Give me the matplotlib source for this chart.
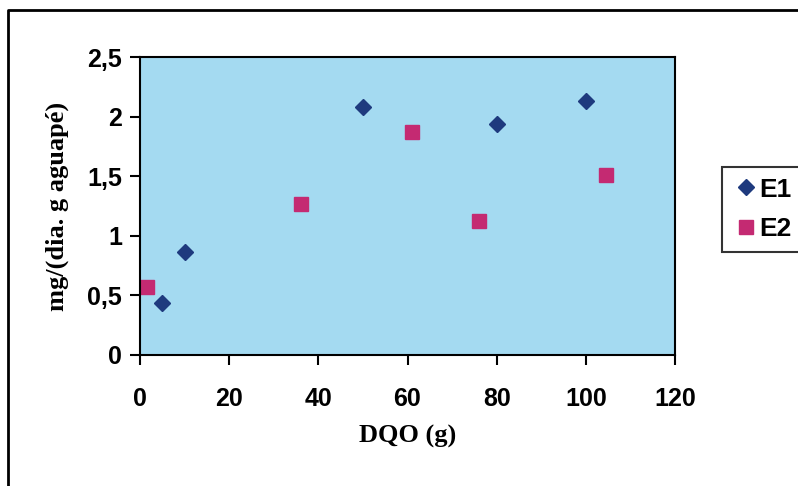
import matplotlib.pyplot as plt
from matplotlib.lines import Line2D

# dados
e1_x = [5, 10, 50, 80, 100]
e1_y = [0.44, 0.86, 2.08, 1.94, 2.13]
e2_x = [1.5, 36, 61, 76, 104.5]
e2_y = [0.57, 1.27, 1.87, 1.12, 1.51]

x_ticks = [0, 20, 40, 60, 80, 100, 120]
y_ticks = [0, 0.5, 1, 1.5, 2, 2.5]
y_labels = ['0', '0,5', '1', '1,5', '2', '2,5']

W, H = 798, 486
fig = plt.figure(figsize=(W / 100, H / 100), dpi=100)
ax = fig.add_axes([140 / W, 1 - 355 / H, (675 - 140) / W, (355 - 57) / H])
ax.set_facecolor('#A4DAF1')

ax.plot(e1_x, e1_y, linestyle='', marker='D', ms=8, color='#1E3A7E', label='E1')
ax.plot(e2_x, e2_y, linestyle='', marker='s', ms=10, color='#C42A72', label='E2')

ax.set_xlim(0, 120)
ax.set_ylim(0, 2.5)
ax.set_xticks(x_ticks)
ax.set_xticklabels([str(v) for v in x_ticks])
ax.set_yticks(y_ticks)
ax.set_yticklabels(y_labels)
ax.tick_params(direction='out', length=7, width=1.5)
ax.tick_params(axis='x', pad=16)
ax.tick_params(axis='y', pad=6)
for lab in ax.get_xticklabels() + ax.get_yticklabels():
    lab.set_fontfamily('Liberation Sans')
    lab.set_fontweight('bold')
    lab.set_fontsize(18)
for s in ax.spines.values():
    s.set_linewidth(1.5)

ax.set_xlabel('DQO (g)', family='Liberation Serif', weight='bold', fontsize=19, labelpad=10)
ax.set_ylabel('mg/(dia. g aguapé)', family='Liberation Serif', weight='bold', fontsize=19, labelpad=13)

leg = fig.legend(loc='upper left', bbox_to_anchor=(722 / W, 1 - 167 / H),
                 prop={'family': 'Liberation Sans', 'weight': 'bold', 'size': 19},
                 frameon=True, fancybox=False, edgecolor='black', handletextpad=0.0,
                 handlelength=1.0, borderpad=0.4, labelspacing=0.6, borderaxespad=0)
leg.get_frame().set_linewidth(1.5)

# moldura externa
fig.add_artist(Line2D([8 / W, 8 / W, 1.0], [0.0, 1 - 10 / H, 1 - 10 / H],
                      transform=fig.transFigure, color='black', lw=2))

fig.savefig('out.png', dpi=100, facecolor='white')
